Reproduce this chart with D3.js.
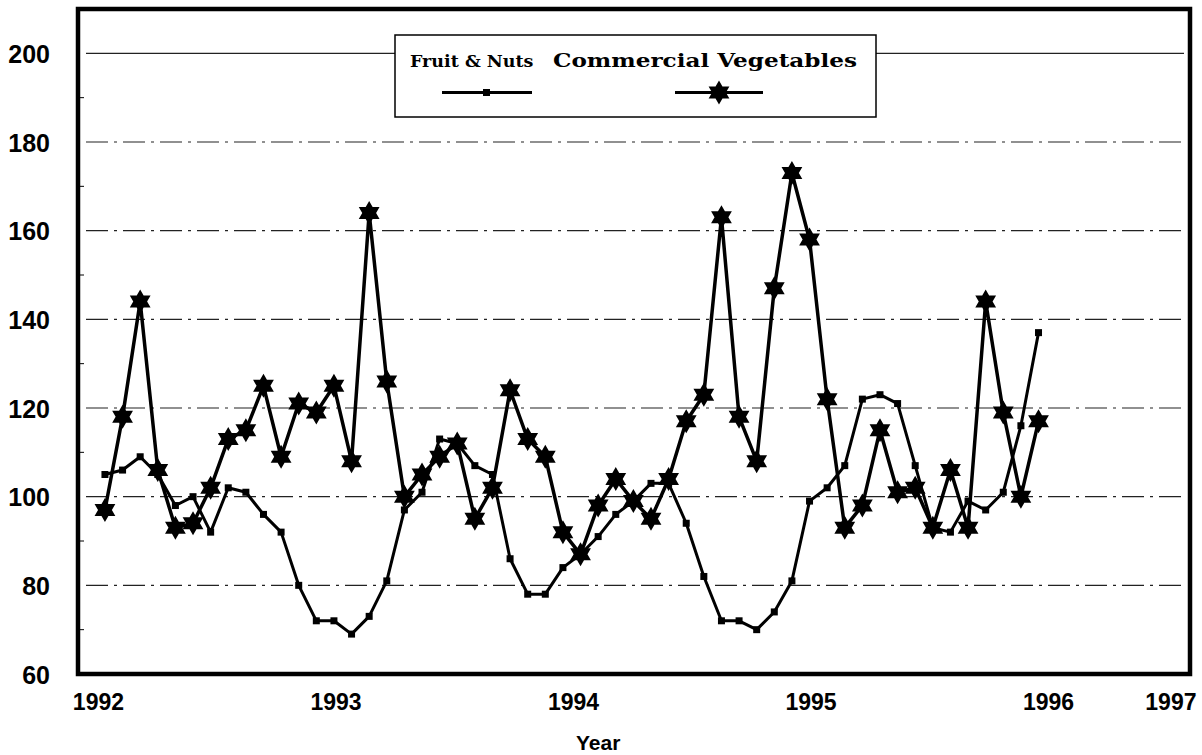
<!DOCTYPE html>
<html>
<head>
    <title>Fruit & Nuts vs Commercial Vegetables</title>
    <script src="https://d3js.org/d3.v7.min.js"></script>
    <style>
        body { margin: 0; background: #fff; }
        .tick-label { font: bold 23px "Liberation Sans", Arial, sans-serif; fill: #000; }
        .legend-text { font: bold 18px "DejaVu Serif", serif; fill: #000; }
    </style>
</head>
<body>
<script>
    // data, one value per period, starting Jan 1992
    var fruitNuts = [105, 106, 109, 105, 98, 100, 92, 102, 101, 96, 92, 80, 72, 72, 69, 73, 81, 97,
        101, 113, 112, 107, 105, 86, 78, 78, 84, 87, 91, 96, 99, 103, 103, 94, 82, 72, 72, 70,
        74, 81, 99, 102, 107, 122, 123, 121, 107, 93, 92, 99, 97, 101, 116, 137];
    var commVeg = [97, 118, 144, 106, 93, 94, 102, 113, 115, 125, 109, 121, 119, 125, 108, 164, 126, 100,
        105, 109, 112, 95, 102, 124, 113, 109, 92, 87, 98, 104, 99, 95, 104, 117, 123, 163, 118, 108,
        147, 173, 158, 122, 93, 98, 115, 101, 102, 93, 106, 93, 144, 119, 100, 117];
    var years = [1992, 1993, 1994, 1995, 1996, 1997];
    var yTicks = [60, 80, 100, 120, 140, 160, 180, 200];
    var yMinor = [70, 90, 110, 130, 150, 170, 190];
    var seriesNames = ["Fruit & Nuts", "Commercial Vegetables"];

    var width = 1202, height = 755;
    var mLeft = 78, mRight = 1190, mTop = 9, mBottom = 674;

    var svg = d3.select("body").append("svg")
        .attr("width", width)
        .attr("height", height);

    // index scale for the data points
    var x = d3.scaleLinear().domain([-1.53, 61.6]).range([mLeft, mRight]);
    // year scale used only for the axis labels
    var xYear = d3.scaleLinear().domain([1991.916, 1996.598]).range([mLeft, mRight]).clamp(true);
    var y = d3.scaleLinear().domain([60, 210]).range([mBottom, mTop]);

    // gridlines
    var grid = svg.append("g");
    grid.selectAll("line")
        .data(yTicks.filter(function(d) { return d > 60; }))
        .enter().append("line")
        .attr("x1", mLeft + 8)
        .attr("x2", mRight - 6)
        .attr("y1", function(d) { return y(d); })
        .attr("y2", function(d) { return y(d); })
        .attr("stroke", "#222")
        .attr("stroke-width", 1.2)
        .attr("stroke-dasharray", function(d) { return d === 200 ? null : "22,6,3,6"; });

    // minor ticks on the left axis
    svg.append("g").selectAll("line")
        .data(yMinor)
        .enter().append("line")
        .attr("x1", mLeft)
        .attr("x2", mLeft + 6)
        .attr("y1", function(d) { return y(d); })
        .attr("y2", function(d) { return y(d); })
        .attr("stroke", "#000")
        .attr("stroke-width", 1);

    // y axis labels
    var yAxis = svg.append("g")
        .attr("transform", "translate(" + mLeft + ",0)")
        .call(d3.axisLeft(y).tickValues(yTicks).tickSize(0).tickPadding(28));
    yAxis.select(".domain").remove();
    yAxis.selectAll("text").attr("class", "tick-label").attr("dy", "0.36em").style("font-size", "25px");

    // x axis labels
    var xAxis = svg.append("g")
        .attr("transform", "translate(0," + mBottom + ")")
        .call(d3.axisBottom(xYear).tickValues(years).tickFormat(d3.format("d")).tickSize(0).tickPadding(22));
    xAxis.select(".domain").remove();
    xAxis.selectAll("text").attr("class", "tick-label").attr("dy", "0.6em");
    xAxis.selectAll(".tick").filter(function(d) { return d === 1997; })
        .select("text").attr("text-anchor", "end").attr("dx", 6);

    svg.append("text")
        .attr("class", "tick-label")
        .attr("x", x(28))
        .attr("y", 750)
        .attr("text-anchor", "middle")
        .style("font-size", "21px")
        .text("Year");

    // frame
    svg.append("rect")
        .attr("x", mLeft)
        .attr("y", mTop)
        .attr("width", mRight - mLeft)
        .attr("height", mBottom - mTop)
        .attr("fill", "none")
        .attr("stroke", "#000")
        .attr("stroke-width", 4.5);

    // six-pointed star path
    function hexagram(r) {
        var pts = [];
        for (var i = 0; i < 12; i++) {
            var a = -Math.PI / 2 + i * Math.PI / 6;
            var rr = i % 2 === 0 ? r : r / Math.sqrt(3);
            pts.push([rr * Math.cos(a), rr * Math.sin(a)]);
        }
        return "M" + pts.join("L") + "Z";
    }

    var line = d3.line()
        .x(function(d, i) { return x(i); })
        .y(function(d) { return y(d); });

    // Fruit & Nuts
    svg.append("path")
        .datum(fruitNuts)
        .attr("d", line)
        .attr("fill", "none")
        .attr("stroke", "#000")
        .attr("stroke-width", 3)
        .attr("stroke-linejoin", "round");

    svg.append("g").selectAll("rect")
        .data(fruitNuts)
        .enter().append("rect")
        .attr("x", function(d, i) { return x(i) - 3.5; })
        .attr("y", function(d) { return y(d) - 3.5; })
        .attr("width", 7)
        .attr("height", 7)
        .attr("fill", "#000");

    // Commercial Vegetables
    svg.append("path")
        .datum(commVeg)
        .attr("d", line)
        .attr("fill", "none")
        .attr("stroke", "#000")
        .attr("stroke-width", 3.5)
        .attr("stroke-linejoin", "round");

    svg.append("g").selectAll("path")
        .data(commVeg)
        .enter().append("path")
        .attr("d", hexagram(12))
        .attr("transform", function(d, i) { return "translate(" + x(i) + "," + y(d) + ")"; })
        .attr("fill", "#000");

    // legend
    var legend = svg.append("g");
    legend.append("rect")
        .attr("x", 395)
        .attr("y", 35)
        .attr("width", 481)
        .attr("height", 82)
        .attr("fill", "#fff")
        .attr("stroke", "#000")
        .attr("stroke-width", 1.5);

    legend.append("text").attr("class", "legend-text")
        .attr("x", 410).attr("y", 67)
        .style("font-size", "17.5px")
        .text(seriesNames[0]);
    legend.append("text").attr("class", "legend-text")
        .attr("x", 553).attr("y", 67)
        .attr("textLength", 304).attr("lengthAdjust", "spacingAndGlyphs")
        .text(seriesNames[1]);

    legend.append("line")
        .attr("x1", 442).attr("x2", 532).attr("y1", 92.5).attr("y2", 92.5)
        .attr("stroke", "#000").attr("stroke-width", 3);
    legend.append("rect")
        .attr("x", 483).attr("y", 89).attr("width", 7).attr("height", 7).attr("fill", "#000");

    legend.append("line")
        .attr("x1", 675).attr("x2", 763).attr("y1", 92.5).attr("y2", 92.5)
        .attr("stroke", "#000").attr("stroke-width", 3);
    legend.append("path")
        .attr("d", hexagram(12))
        .attr("transform", "translate(719,92.5)")
        .attr("fill", "#000");
</script>
</body>
</html>
